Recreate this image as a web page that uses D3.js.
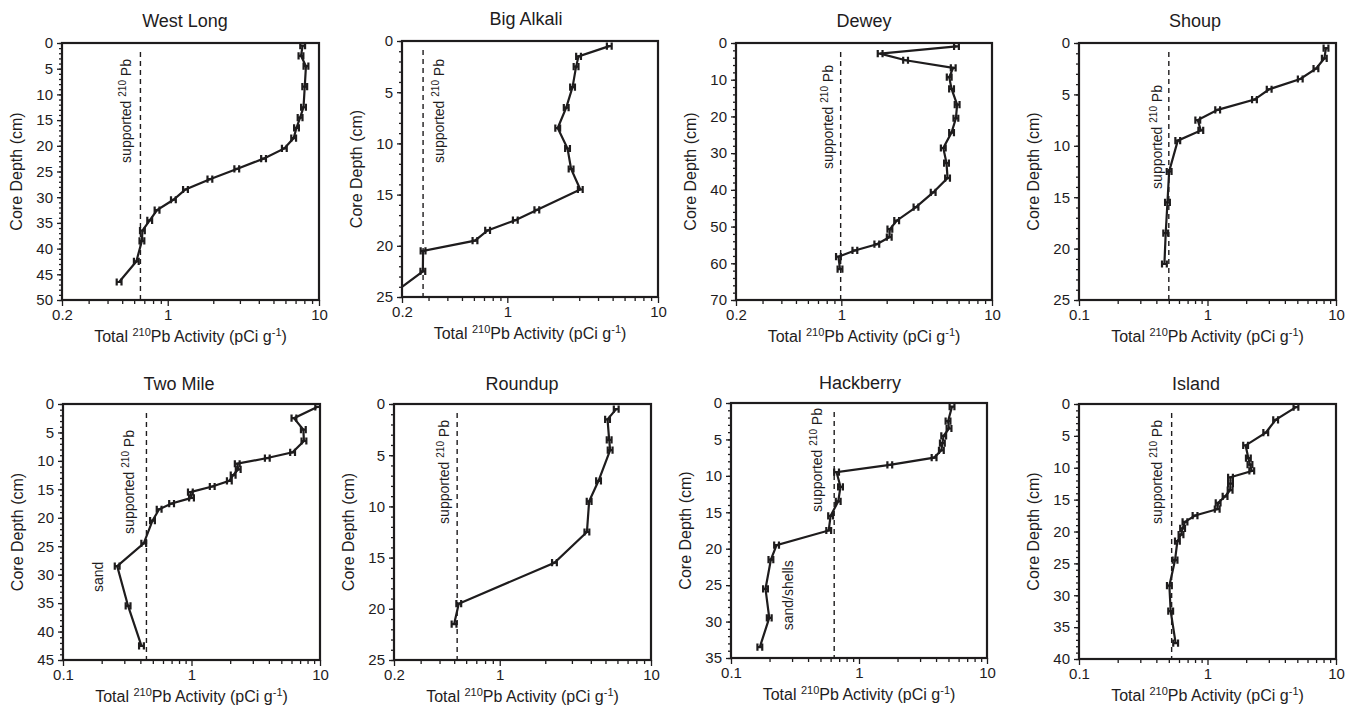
<!DOCTYPE html>
<html>
<head>
<meta charset="utf-8">
<script src="https://cdn.jsdelivr.net/npm/d3@7"></script>
<style>
  body { margin: 0; background: #fff; }
  svg { font-family: "Liberation Sans", Arial, Helvetica, sans-serif; }
</style>
</head>
<body>
<svg id="chart" width="1351" height="710"></svg>
<script>
// Site names and axis ranges
const sites = ["West Long", "Big Alkali", "Dewey", "Shoup", "Two Mile", "Roundup", "Hackberry", "Island"];
const xMins = [0.2, 0.2, 0.2, 0.1, 0.1, 0.2, 0.1, 0.1];
const xMax = 10;
const depthMax = [50, 25, 70, 25, 45, 25, 35, 40];
const depthStep = [5, 5, 10, 5, 5, 5, 5, 5];
const depthMinorStep = [1, 1, 2, 1, 1, 1, 1, 1];
const supported = [0.66, 0.276, 0.99, 0.5, 0.446, 0.523, 0.64, 0.526];

// Total 210Pb activity (pCi/g) versus core depth (cm)
const westLongDepth = [0.5, 2.5, 4.5, 8.5, 12.5, 14.5, 16.5, 18.5, 20.5, 22.5, 24.5, 26.5, 28.5, 30.5, 32.5, 34.5, 36.5, 38.5, 42.5, 46.5];
const westLongActivity = [7.8, 7.6, 8.2, 8.05, 7.9, 7.5, 7.1, 6.8, 5.9, 4.3, 2.86, 1.9, 1.31, 1.09, 0.85, 0.76, 0.68, 0.675, 0.62, 0.477];

const bigAlkaliDepth = [0.5, 1.5, 2.5, 4.5, 6.5, 8.5, 10.5, 12.5, 14.5, 16.5, 17.5, 18.5, 19.5, 20.5, 22.5, 24.5];
const bigAlkaliActivity = [4.75, 2.97, 2.86, 2.71, 2.46, 2.16, 2.51, 2.65, 3.05, 1.57, 1.13, 0.74, 0.61, 0.276, 0.275, 0.18];

const deweyDepth = [0.9, 2.9, 4.7, 6.8, 9.3, 12.5, 16.8, 20.5, 24.4, 28.6, 32.7, 36.8, 40.7, 44.7, 48.4, 50.7, 52.9, 54.8, 56.5, 58.2, 61.6];
const deweyActivity = [5.81, 1.81, 2.67, 5.53, 5.2, 5.39, 5.87, 5.76, 5.39, 4.75, 4.99, 5.07, 4.07, 3.13, 2.33, 2.1, 2.08, 1.72, 1.23, 0.957, 0.98];

const shoupDepth = [0.5, 1.5, 2.5, 3.5, 4.5, 5.5, 6.5, 7.5, 8.5, 9.5, 12.5, 15.5, 18.5, 21.5];
const shoupActivity = [8.36, 8.11, 6.98, 5.27, 3.02, 2.32, 1.2, 0.84, 0.887, 0.587, 0.503, 0.488, 0.473, 0.462];

const twoMileDepth = [0.5, 2.5, 4.5, 6.5, 8.5, 9.5, 10.5, 11.5, 12.5, 13.5, 14.5, 15.5, 16.5, 17.5, 18.5, 20.5, 24.5, 28.5, 35.5, 42.5];
const twoMileActivity = [9.6, 6.27, 7.42, 7.5, 6.12, 3.89, 2.27, 2.31, 2.11, 1.97, 1.45, 0.98, 1.0, 0.7, 0.56, 0.497, 0.425, 0.264, 0.321, 0.408];

const roundupDepth = [0.5, 1.5, 3.5, 4.5, 7.5, 9.5, 12.5, 15.5, 19.5, 21.5];
const roundupActivity = [5.89, 5.16, 5.29, 5.37, 4.5, 3.9, 3.77, 2.3, 0.536, 0.499];

const hackberryDepth = [0.5, 2.5, 3.5, 4.5, 5.5, 6.5, 7.5, 8.5, 9.5, 11.5, 13.5, 15.5, 17.5, 19.5, 21.5, 25.5, 29.5, 33.5];
const hackberryActivity = [5.33, 4.96, 5.05, 4.59, 4.48, 4.4, 3.86, 1.74, 0.668, 0.717, 0.688, 0.6, 0.58, 0.227, 0.205, 0.186, 0.199, 0.168];

const islandDepth = [0.5, 2.5, 4.5, 6.5, 8.5, 9.5, 10.5, 11.5, 12.5, 13.5, 14.5, 15.5, 16.5, 17.5, 18.5, 19.5, 20.5, 21.5, 24.5, 28.5, 32.5, 37.5];
const islandActivity = [4.88, 3.39, 2.84, 1.98, 2.08, 2.14, 2.21, 1.51, 1.51, 1.5, 1.37, 1.21, 1.19, 0.8, 0.668, 0.64, 0.622, 0.583, 0.559, 0.505, 0.517, 0.565];

const depths = [westLongDepth, bigAlkaliDepth, deweyDepth, shoupDepth, twoMileDepth, roundupDepth, hackberryDepth, islandDepth];
const activities = [westLongActivity, bigAlkaliActivity, deweyActivity, shoupActivity, twoMileActivity, roundupActivity, hackberryActivity, islandActivity];

// Sediment notes: panel, text, activity, depth
const noteSites = [4, 6];
const noteTexts = ["sand", "sand/shells"];
const noteActivity = [0.205, 0.305];
const noteDepth = [30.4, 26.4];

// Layout: plot frames [left, top, right, bottom]
const frames = [
  [62, 43, 319, 300], [402, 41, 658, 297], [736, 43, 992, 300], [1079, 43, 1336, 300],
  [63, 404, 320, 660], [394, 404, 651, 660], [731, 403, 987, 658], [1079, 404, 1336, 659]
];
const titleX = [185, 526, 864, 1195, 179, 522, 860, 1196];
const supLabelDx = [-9, 21, -8, -7, -12, -8, -12, -10];
const supLabelTop = [16, 18, 22, 42, 26, 16, 5, 16];

const ink = "#1e1c1d";
const svg = d3.select("#chart");

sites.forEach((site, i) => {
  const [left, top, right, bottom] = frames[i];
  const x = d3.scaleLog().domain([xMins[i], xMax]).range([left, right]);
  const y = d3.scaleLinear().domain([0, depthMax[i]]).range([top, bottom]);
  const g = svg.append("g");

  // Clip the data to the frame
  g.append("clipPath").attr("id", "clip" + i)
    .append("rect").attr("x", left).attr("y", top)
    .attr("width", right - left).attr("height", bottom - top);

  // Y axis minor + major ticks
  g.append("g")
    .attr("transform", `translate(${left},0)`)
    .call(d3.axisLeft(y).tickValues(d3.range(0, depthMax[i] + 0.01, depthMinorStep[i])).tickSize(3).tickFormat(""))
    .call(a => a.select(".domain").remove());
  g.append("g")
    .attr("transform", `translate(${left},0)`)
    .call(d3.axisLeft(y).tickValues(d3.range(0, depthMax[i] + 0.01, depthStep[i])).tickSize(5).tickPadding(4))
    .call(a => a.select(".domain").remove())
    .call(a => a.selectAll("text").attr("font-size", 15).attr("fill", ink).attr("font-family", null));

  // X axis minor + major ticks
  const majors = [xMins[i], 1, 10];
  g.append("g")
    .attr("transform", `translate(0,${bottom})`)
    .call(d3.axisBottom(x).tickValues(x.ticks().filter(v => !majors.includes(v))).tickSize(4).tickFormat(""))
    .call(a => a.select(".domain").remove());
  g.append("g")
    .attr("transform", `translate(0,${bottom})`)
    .call(d3.axisBottom(x).tickValues(majors).tickSize(6).tickPadding(3).tickFormat(d3.format("")))
    .call(a => a.select(".domain").remove())
    .call(a => a.selectAll("text").attr("font-size", 15).attr("fill", ink).attr("font-family", null));

  g.selectAll(".tick line").attr("stroke", ink).attr("stroke-width", 1.3);

  // Frame
  g.append("rect")
    .attr("x", left).attr("y", top)
    .attr("width", right - left).attr("height", bottom - top)
    .attr("fill", "none").attr("stroke", ink).attr("stroke-width", 2.2);

  // Title
  g.append("text")
    .attr("x", titleX[i]).attr("y", top - (i < 4 ? 16 : 14))
    .attr("text-anchor", "middle").attr("font-size", 18).attr("fill", ink)
    .text(site);

  // Axis titles
  g.append("text")
    .attr("transform", `translate(${left - 40},${(top + bottom) / 2}) rotate(-90)`)
    .attr("text-anchor", "middle").attr("font-size", 16).attr("fill", ink)
    .text("Core Depth (cm)");

  const xl = g.append("text")
    .attr("x", (left + right) / 2).attr("y", bottom + 42)
    .attr("text-anchor", "middle").attr("font-size", 16).attr("fill", ink);
  xl.append("tspan").text("Total ");
  xl.append("tspan").attr("font-size", 11).attr("dy", -6).text("210");
  xl.append("tspan").attr("dy", 6).text("Pb Activity (pCi g");
  xl.append("tspan").attr("font-size", 11).attr("dy", -6).text("-1");
  xl.append("tspan").attr("dy", 6).text(")");

  // Supported 210Pb dashed line and label
  const sx = x(supported[i]);
  g.append("line")
    .attr("x1", sx).attr("x2", sx).attr("y1", top + 9).attr("y2", bottom)
    .attr("stroke", ink).attr("stroke-width", 1.4).attr("stroke-dasharray", "5,4");

  const sl = g.append("text")
    .attr("transform", `translate(${sx + supLabelDx[i]},${top + supLabelTop[i]}) rotate(-90)`)
    .attr("text-anchor", "end").attr("font-size", 14).attr("fill", ink);
  sl.append("tspan").text("supported ");
  sl.append("tspan").attr("font-size", 10).attr("dy", -5).text("210");
  sl.append("tspan").attr("dy", 5).text(" Pb");

  // Profile line and error-bar markers
  const pts = depths[i].map((d, k) => ({ depth: d, act: activities[i][k] }));
  const data = g.append("g").attr("clip-path", `url(#clip${i})`);
  data.append("path")
    .datum(pts)
    .attr("d", d3.line().x(d => x(d.act)).y(d => y(d.depth)))
    .attr("fill", "none").attr("stroke", ink).attr("stroke-width", 2.2);
  data.selectAll(".mk").data(pts).enter().append("path")
    .attr("class", "mk")
    .attr("transform", d => `translate(${x(d.act)},${y(d.depth)})`)
    .attr("d", "M-2.4,-3.6V3.6M2.4,-3.6V3.6M-2.4,0H2.4")
    .attr("fill", "none").attr("stroke", ink).attr("stroke-width", 2.2);
});

// Sediment notes
noteSites.forEach((p, k) => {
  const [left, top, right, bottom] = frames[p];
  const x = d3.scaleLog().domain([xMins[p], xMax]).range([left, right]);
  const y = d3.scaleLinear().domain([0, depthMax[p]]).range([top, bottom]);
  svg.append("text")
    .attr("transform", `translate(${x(noteActivity[k])},${y(noteDepth[k])}) rotate(-90)`)
    .attr("text-anchor", "middle").attr("font-size", 14).attr("fill", ink)
    .text(noteTexts[k]);
});
</script>
</body>
</html>
